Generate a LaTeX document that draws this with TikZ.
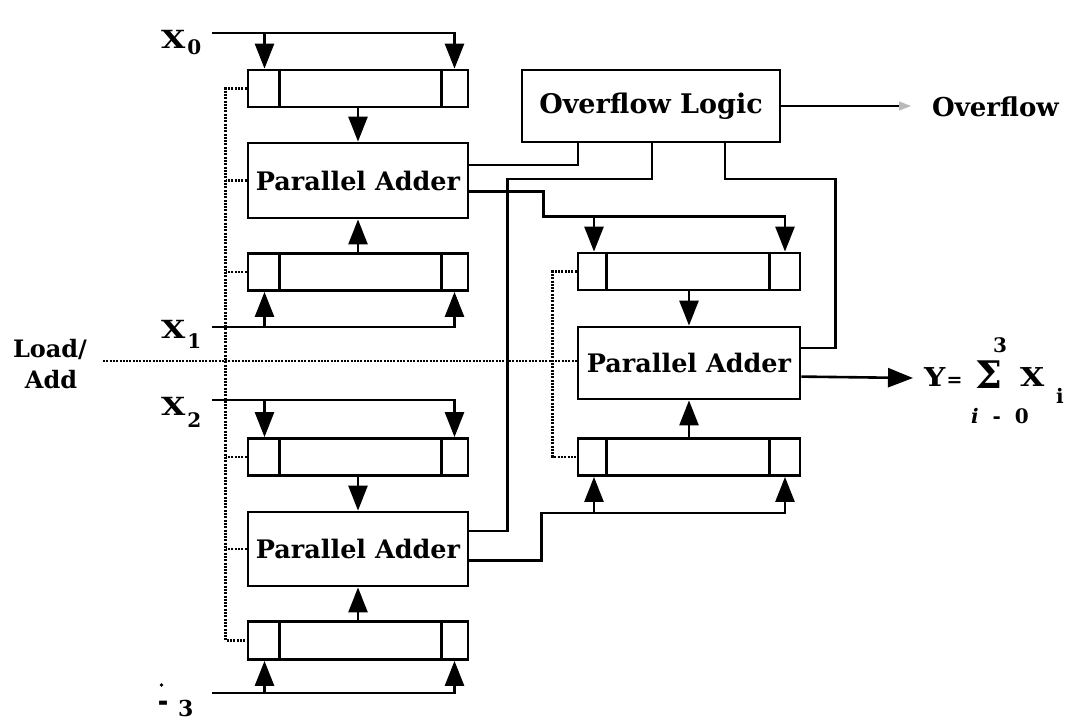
\documentclass[tikz,border=0pt]{standalone}
\usepackage{fontspec}
\setmainfont{DejaVu Serif}
\usetikzlibrary{calc,arrows.meta}

% operand label, index dropped by #2
\newcommand{\opnd}[2]{\scalebox{1.25}[1]{X}\kern2pt\raisebox{-#2}{\fontsize{20}{20}\selectfont #1}}

\tikzset{
	box/.style={draw, line width=2.8pt, inner sep=0pt, font=\bfseries\fontsize{25.5}{26}\selectfont},
	reg/.style={box, minimum width=220pt, minimum height=37pt},
	adder/.style={box, minimum width=220pt, minimum height=75pt},
	sig/.style={line width=2.6pt, -{Triangle[length=25pt,width=19pt]}},
	wire/.style={line width=2.2pt},
	ctl/.style={line width=2.6pt, dash pattern=on 2pt off 1.3pt},
	lbl/.style={inner sep=0pt, font=\bfseries\fontsize{25}{25}\selectfont},
	sml/.style={inner sep=0pt, font=\bfseries\fontsize{20}{20}\selectfont},
}

\begin{document}
\begin{tikzpicture}[x=1pt, y=-1pt]
	\useasboundingbox (0,0) rectangle (1069,724);

	% left column: two stacks of register / adder / register
	\node[reg] (r1) at (358,88.5) {};
	\node[adder] (a1) at (358,180.5) {Parallel Adder};
	\node[reg] (r2) at (358,272) {};
	\node[reg] (r5) at (358,457) {};
	\node[adder, minimum height=74pt] (a3) at (358,549) {Parallel Adder};
	\node[reg, minimum height=38pt] (r6) at (358,640.5) {};
	% right column
	\node[reg, minimum width=222pt] (r3) at (689,271.5) {};
	\node[adder, minimum width=222pt, minimum height=72pt] (a2) at (689,363) {Parallel Adder};
	\node[reg, minimum width=222pt] (r4) at (689,457) {};
	\node[box, line width=2.2pt, minimum width=258pt, minimum height=72pt,
		font=\bfseries\fontsize{27}{27}\selectfont] (ov) at (651,106) {Overflow Logic};

	% end cells of every register
	\foreach \r/\lw/\rw in {r1/33/28, r2/33/28, r5/33/28, r6/33/28, r3/30/32, r4/30/32} {
		\draw[line width=2.6pt] ($(\r.north west)+(\lw,0)$) -- ($(\r.south west)+(\lw,0)$);
		\draw[line width=2.6pt] ($(\r.north east)+(-\rw,0)$) -- ($(\r.south east)+(-\rw,0)$);
	}

	% register -> adder
	\foreach \r/\a in {r1/a1, r2/a1, r5/a3, r6/a3, r3/a2, r4/a2}
		\draw[sig] (\r) -- (\a);

	% operands
	\coordinate (in0) at (212,33);
	\coordinate (in1) at (212,327);
	\coordinate (in2) at (212,400);
	\coordinate (in3) at (212,693);
	\foreach \i/\r/\s in {in0/r1/north, in1/r2/south, in2/r5/north, in3/r6/south} {
		\coordinate (lc) at ($(\r.\s)+(-93.5,0)$);
		\draw[sig] (\i) -| ($(\r.\s)+(96.5,0)$);
		\draw[sig] (lc |- \i) -- (lc);
	}
	\node[lbl, anchor=base west] (x0) at (161,48) {\opnd{0}{6pt}};
	\node[lbl, anchor=base west] (x1) at (161,338) {\opnd{1}{10pt}};
	\node[lbl, anchor=base west] (x2) at (161,415) {\opnd{2}{12pt}};
	\node[lbl, anchor=base west] (x3) at (158,716) {\raisebox{4pt}{\scalebox{0.8}[1.4]{--}}\kern10pt{\fontsize{22}{22}\selectfont 3}};
	\fill (161.5,685) circle (1.8pt);

	% load/add control
	\node[lbl, font=\bfseries\fontsize{24}{24}\selectfont, anchor=base] (load) at (50,357) {Load/};
	\node[lbl, font=\bfseries\fontsize{24}{24}\selectfont, anchor=base] (add) at (51,388) {Add};
	\coordinate (ld) at (103,361);
	\draw[ctl] (ld) -- (ld -| a2.west);
	\draw[ctl] (r1.west) -- ++(-21,0) |- (r6.west);
	\foreach \n in {a1,r2,r5,a3}
		\draw[ctl] (\n.west) -- ++(-21,0);
	\draw[ctl] (r3.west) -- ++(-24,0) |- (r4.west);

	% partial sums into the right column
	\draw[sig] ($(a1.north east)+(0,50)$) -- ++(74,0) |- ($(r3.north)+(96,-35)$) -- ($(r3.north)+(96,0)$);
	\draw[sig] ($(r3.north)+(-95,-35)$) -- ($(r3.north)+(-95,0)$);
	\draw[sig] ($(a3.north east)+(0,50)$) -- ++(72,0) |- ($(r4.south)+(96,36)$) -- ($(r4.south)+(96,0)$);
	\draw[sig] ($(r4.south)+(-95,36)$) -- ($(r4.south)+(-95,0)$);

	% carries to overflow logic
	\draw[wire] ($(a1.north east)+(0,23)$) -| ($(ov.south west)+(57,0)$);
	\draw[wire] ($(a3.north east)+(0,20)$) -- ++(38,0) |- ($(ov.south west)+(131,36)$) -- ($(ov.south west)+(131,0)$);
	\draw[wire] ($(ov.south west)+(204,0)$) -- ++(0,36) -| ($(a2.north east)+(34,22)$) -- ($(a2.north east)+(0,22)$);

	% overflow flag
	\coordinate (ovout) at (911,106);
	\draw[line width=1.4pt, -{Triangle[length=12pt,width=9pt,color=gray!55]}] (ov) -- (ovout);
	\node[lbl, anchor=base west, font=\bfseries\fontsize{26}{26}\selectfont] (ovf) at (932,116) {Overflow};

	% result
	\coordinate (yout) at (913,378);
	\draw[sig] ($(a2.north east)+(0,51)$) -- (yout);
	\node[lbl, anchor=base west, font=\bfseries\fontsize{26}{26}\selectfont] (ysum) at (924,386) {\scalebox{1.15}[1]{Y}\kern1pt{\fontsize{19}{19}\selectfont =}};
	\node[lbl, anchor=base west, font=\bfseries\fontsize{38}{38}\selectfont] (sigma) at (975,388) {Σ};
	\node[lbl, anchor=base west, font=\bfseries\fontsize{26}{26}\selectfont] (xs) at (1020,386) {\scalebox{1.2}[1]{X}};
	\node[sml, anchor=base west] (is) at (1056,403) {i};
	\node[sml, anchor=base] (up) at (1000,352) {3};
	\node[sml, anchor=base] (lo) at (1000,423) {\textit{i}\ \ -\ \ 0};
\end{tikzpicture}
\end{document}
